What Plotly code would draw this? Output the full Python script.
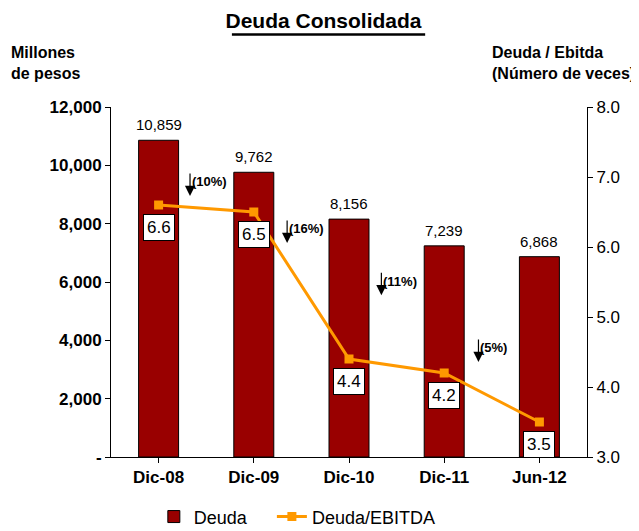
import plotly.graph_objects as go

# data
periodos = ['Dic-08', 'Dic-09', 'Dic-10', 'Dic-11', 'Jun-12']
deuda = [10859, 9762, 8156, 7239, 6868]
deuda_ebitda = [6.6, 6.5, 4.4, 4.2, 3.5]
variacion = ['(10%)', '(16%)', '(11%)', '(5%)']
# where each "down" arrow tip sits (x in category units, y in millones de pesos)
var_x = [0.33, 1.35, 2.34, 3.36]
var_y = [8950, 7340, 5550, 3260]

FONT = 'Liberation Sans, Arial, sans-serif'
NBSP = '\u00a0'

fig = go.Figure()

fig.add_trace(go.Bar(
    x=list(range(len(periodos))), y=deuda, name='Deuda' + NBSP * 4,
    marker=dict(color='#990000', line=dict(color='#000000', width=1)),
    width=0.42,
))

fig.add_trace(go.Scatter(
    x=list(range(len(periodos))), y=deuda_ebitda, name='Deuda/EBITDA',
    yaxis='y2', mode='lines+markers',
    line=dict(color='#FF9900', width=3),
    marker=dict(symbol='square', size=9, color='#FF9900'),
))

annotations = []
# value labels above the bars
for i, v in enumerate(deuda):
    annotations.append(dict(
        x=i, y=v, xref='x', yref='y', text=f'{v:,}', showarrow=False,
        yanchor='bottom', yshift=5,
        font=dict(size=15, color='#000000', family=FONT),
    ))
# boxed ratio labels under each point
for i, v in enumerate(deuda_ebitda):
    annotations.append(dict(
        x=i, y=v, xref='x', yref='y2', text=f'{v:.1f}', showarrow=False,
        yshift=-22, bgcolor='#ffffff', bordercolor='#000000', borderwidth=1,
        borderpad=3, font=dict(size=17, color='#000000', family=FONT),
    ))
# down arrows with the % change
for xv, yv, t in zip(var_x, var_y, variacion):
    annotations.append(dict(
        x=xv, y=yv, xref='x', yref='y', text='', showarrow=True,
        ax=0, ay=-24, arrowhead=2, arrowsize=1.7, arrowwidth=1.2,
        arrowcolor='#000000',
    ))
    annotations.append(dict(
        x=xv, y=yv, xref='x', yref='y', text=f'<b>{t}</b>', showarrow=False,
        xanchor='left', yshift=14, xshift=0,
        font=dict(size=13, color='#000000', family=FONT),
    ))
# axis titles
annotations.append(dict(
    x=-0.215, y=1.185, xref='paper', yref='paper', text='<b>Millones<br>de pesos</b>',
    showarrow=False, align='left', xanchor='left', yanchor='top',
    font=dict(size=16),
))
annotations.append(dict(
    x=1.105, y=1.185, xref='paper', yref='paper',
    text='<b>Deuda / Ebitda<br>(Número de veces)</b>',
    showarrow=False, align='left', xanchor='right', yanchor='top',
    font=dict(size=16),
))

fig.update_layout(
    width=631, height=523,
    margin=dict(l=103, r=52, t=99, b=74, autoexpand=False),
    paper_bgcolor='#ffffff', plot_bgcolor='#ffffff',
    font=dict(family=FONT, size=15, color='#000000'),
    title=dict(text='<b>Deuda Consolidada</b>', x=0.5, xanchor='center',
               y=0.99, yanchor='top', font=dict(size=21, family=FONT)),
    xaxis=dict(
        tickvals=list(range(len(periodos))), ticktext=[f'<b>{p}</b>' for p in periodos],
        range=[-0.5, len(periodos) - 0.5], showline=True, linecolor='#000000',
        ticks='outside', tickson='boundaries', ticklen=5, tickcolor='#000000',
        showgrid=False, zeroline=False, tickfont=dict(size=17), automargin=False,
    ),
    yaxis=dict(
        range=[0, 12000], tickvals=[0, 2000, 4000, 6000, 8000, 10000, 12000],
        ticktext=['<b>-</b>'] + [f'<b>{v:,}</b>' for v in range(2000, 12001, 2000)],
        showline=True, linecolor='#000000', ticks='outside', ticklen=5,
        tickcolor='#000000', showgrid=False, zeroline=False,
        tickfont=dict(size=17), automargin=False,
    ),
    yaxis2=dict(
        range=[3, 8], dtick=1, tickformat='.1f', overlaying='y', side='right',
        showline=True, linecolor='#000000', ticks='outside', ticklen=5,
        tickcolor='#000000', showgrid=False, zeroline=False,
        tickfont=dict(size=17), automargin=False,
    ),
    legend=dict(orientation='h', x=0.09, xanchor='left', y=-0.171, yanchor='middle',
                font=dict(size=18), itemwidth=30, tracegroupgap=0),
    annotations=annotations,
    showlegend=True,
    # thick underline below the title
    shapes=[dict(type='line', xref='paper', yref='paper',
                 x0=0.254, x1=0.66, y0=1.207, y1=1.207,
                 line=dict(color='#000000', width=2.5))],
)

fig.write_html('out.html')
